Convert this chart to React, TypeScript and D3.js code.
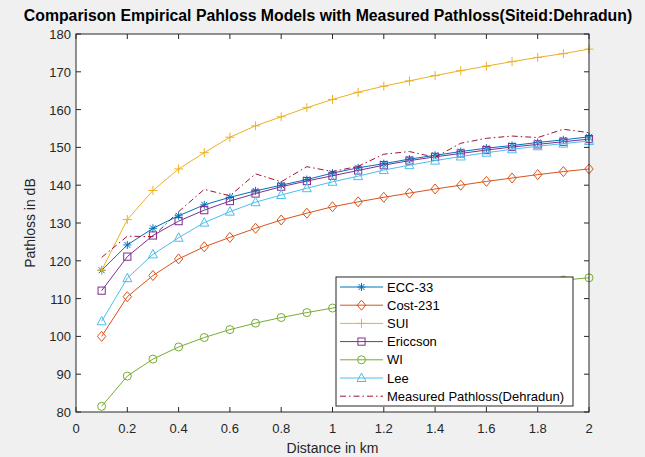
import React from "react";
import * as d3 from "d3";

const distances = [0.1, 0.2, 0.3, 0.4, 0.5, 0.6, 0.7, 0.8, 0.9, 1.0, 1.1, 1.2, 1.3, 1.4, 1.5, 1.6, 1.7, 1.8, 1.9, 2.0];
const ecc33 = [117.5, 124.2, 128.6, 131.9, 134.8, 136.8, 138.5, 140.0, 141.5, 143.2, 144.6, 145.7, 146.9, 147.9, 148.9, 149.8, 150.5, 151.3, 152.0, 152.8];
const cost231 = [100, 110.5, 116.1, 120.5, 123.7, 126.2, 128.6, 130.8, 132.6, 134.3, 135.6, 136.8, 137.9, 139.0, 140.0, 141.0, 141.9, 142.8, 143.6, 144.3];
const sui = [117.5, 130.9, 138.6, 144.3, 148.6, 152.7, 155.7, 158.1, 160.5, 162.7, 164.6, 166.2, 167.6, 169.0, 170.3, 171.5, 172.7, 173.8, 174.8, 176.0];
const ericsson = [112.1, 121.1, 126.7, 130.5, 133.4, 135.8, 137.8, 139.6, 141.1, 142.5, 143.9, 145.3, 146.5, 147.5, 148.4, 149.3, 150.1, 150.8, 151.5, 152.2];
const wi = [81.5, 89.5, 94.0, 97.2, 99.7, 101.8, 103.5, 105.0, 106.3, 107.5, 108.6, 109.6, 110.5, 111.4, 112.2, 112.9, 113.6, 114.3, 114.9, 115.5];
const lee = [104.0, 115.4, 121.7, 126.1, 130.1, 133.0, 135.5, 137.4, 139.2, 140.9, 142.4, 144.0, 145.3, 146.5, 147.6, 148.6, 149.5, 150.3, 151.0, 151.7];
const measured = [120.9, 126.5, 126.4, 133.0, 138.9, 137.2, 143.0, 140.9, 144.9, 143.6, 145.0, 148.2, 148.9, 147.4, 151.1, 152.4, 153.0, 152.6, 154.8, 153.9];

const seriesNames = ["ECC-33", "Cost-231", "SUI", "Ericcson", "WI", "Lee", "Measured Pathloss(Dehradun)"];
const seriesValues = [ecc33, cost231, sui, ericsson, wi, lee, measured];
const seriesColors = ["#0072BD", "#D95319", "#EDB120", "#7E2F8E", "#77AC30", "#4DBEEE", "#A2142F"];
const seriesMarkers = ["star", "diamond", "plus", "square", "circle", "triangle", "none"];

const xTicks = [0, 0.2, 0.4, 0.6, 0.8, 1, 1.2, 1.4, 1.6, 1.8, 2];
const yTicks = [80, 90, 100, 110, 120, 130, 140, 150, 160, 170, 180];

const W = 645, H = 457;
const L = 76, R = 589, T = 34, B = 412;
const FONT = "'Liberation Sans', Arial, Helvetica, sans-serif";
const AX = "#262626";

function Marker({ type, x, y, color }: { type: string; x: number; y: number; color: string }) {
  const s = 4;
  const common = { fill: "none", stroke: color, strokeWidth: 1 };
  switch (type) {
    case "star":
      return (
        <g {...common}>
          <path d={`M${x - s},${y}H${x + s}M${x},${y - s}V${y + s}M${x - s * 0.75},${y - s * 0.75}L${x + s * 0.75},${y + s * 0.75}M${x - s * 0.75},${y + s * 0.75}L${x + s * 0.75},${y - s * 0.75}`} />
        </g>
      );
    case "plus":
      return <path {...common} d={`M${x - s - 0.5},${y}H${x + s + 0.5}M${x},${y - s - 0.5}V${y + s + 0.5}`} />;
    case "diamond":
      return <path {...common} d={`M${x},${y - 5}L${x + 4.2},${y}L${x},${y + 5}L${x - 4.2},${y}Z`} />;
    case "square":
      return <rect {...common} x={x - 3.6} y={y - 3.6} width={7.2} height={7.2} />;
    case "circle":
      return <circle {...common} cx={x} cy={y} r={4} />;
    case "triangle":
      return <path {...common} d={`M${x},${y - 5}L${x + 4.5},${y + 3.5}L${x - 4.5},${y + 3.5}Z`} />;
    default:
      return null;
  }
}

export default function App() {
  const xs = d3.scaleLinear().domain([0, 2]).range([L, R]);
  const ys = d3.scaleLinear().domain([80, 180]).range([B, T]);
  const line = d3.line<number>().x((_, i) => xs(distances[i])).y((v) => ys(v));

  const legX = 336, legY = 277, legW = 237, legH = 129;
  const rowH = 18.2;

  return (
    <div style={{ position: "fixed", left: 0, top: 0 }}>
      <svg width={W} height={H} style={{ display: "block" }} fontFamily={FONT}>
        <rect x={0} y={0} width={W} height={H} fill="#f0f0f0" />
        <rect x={L} y={T} width={R - L} height={B - T} fill="#ffffff" />
        <text x={328} y={21} textAnchor="middle" fontWeight="bold" fontSize={15.8} fill="#000">
          Comparison Empirical Pahloss Models with Measured Pathloss(Siteid:Dehradun)
        </text>

        {/* series */}
        {seriesValues.map((vals, si) => (
          <g key={si}>
            <path
              d={line(vals) || ""}
              fill="none"
              stroke={seriesColors[si]}
              strokeWidth={1}
              strokeDasharray={seriesMarkers[si] === "none" ? "6,3,1.5,3" : undefined}
            />
            {seriesMarkers[si] !== "none" &&
              vals.map((v, i) => (
                <Marker key={i} type={seriesMarkers[si]} x={xs(distances[i])} y={ys(v)} color={seriesColors[si]} />
              ))}
          </g>
        ))}

        {/* axes box and ticks */}
        <rect x={L} y={T} width={R - L} height={B - T} fill="none" stroke={AX} strokeWidth={1} />
        {xTicks.map((t) => (
          <g key={"x" + t}>
            <line x1={xs(t)} x2={xs(t)} y1={B} y2={B - 5} stroke={AX} />
            <line x1={xs(t)} x2={xs(t)} y1={T} y2={T + 5} stroke={AX} />
            <text x={xs(t)} y={433} textAnchor="middle" fontSize={13} fill={AX}>
              {String(t)}
            </text>
          </g>
        ))}
        {yTicks.map((t) => (
          <g key={"y" + t}>
            <line x1={L} x2={L + 5} y1={ys(t)} y2={ys(t)} stroke={AX} />
            <line x1={R} x2={R - 5} y1={ys(t)} y2={ys(t)} stroke={AX} />
            <text x={L - 5} y={ys(t) + 5} textAnchor="end" fontSize={13} fill={AX}>
              {String(t)}
            </text>
          </g>
        ))}

        <text x={(L + R) / 2} y={453} textAnchor="middle" fontSize={14} fill={AX}>
          Distance in km
        </text>
        <text transform={`translate(35,${(T + B) / 2}) rotate(-90)`} textAnchor="middle" fontSize={14} fill={AX}>
          Pathloss in dB
        </text>

        {/* legend */}
        <rect x={legX} y={legY} width={legW} height={legH} fill="#ffffff" stroke={AX} strokeWidth={1} />
        {seriesNames.map((name, si) => {
          const cy = legY + 10 + rowH * si;
          return (
            <g key={name}>
              <line
                x1={legX + 4}
                x2={legX + 47}
                y1={cy}
                y2={cy}
                stroke={seriesColors[si]}
                strokeWidth={1}
                strokeDasharray={seriesMarkers[si] === "none" ? "6,3,1.5,3" : undefined}
              />
              <Marker type={seriesMarkers[si]} x={legX + 25.5} y={cy} color={seriesColors[si]} />
              <text x={legX + 51} y={cy + 4.5} fontSize={13} fill="#000">
                {name}
              </text>
            </g>
          );
        })}
      </svg>
    </div>
  );
}
